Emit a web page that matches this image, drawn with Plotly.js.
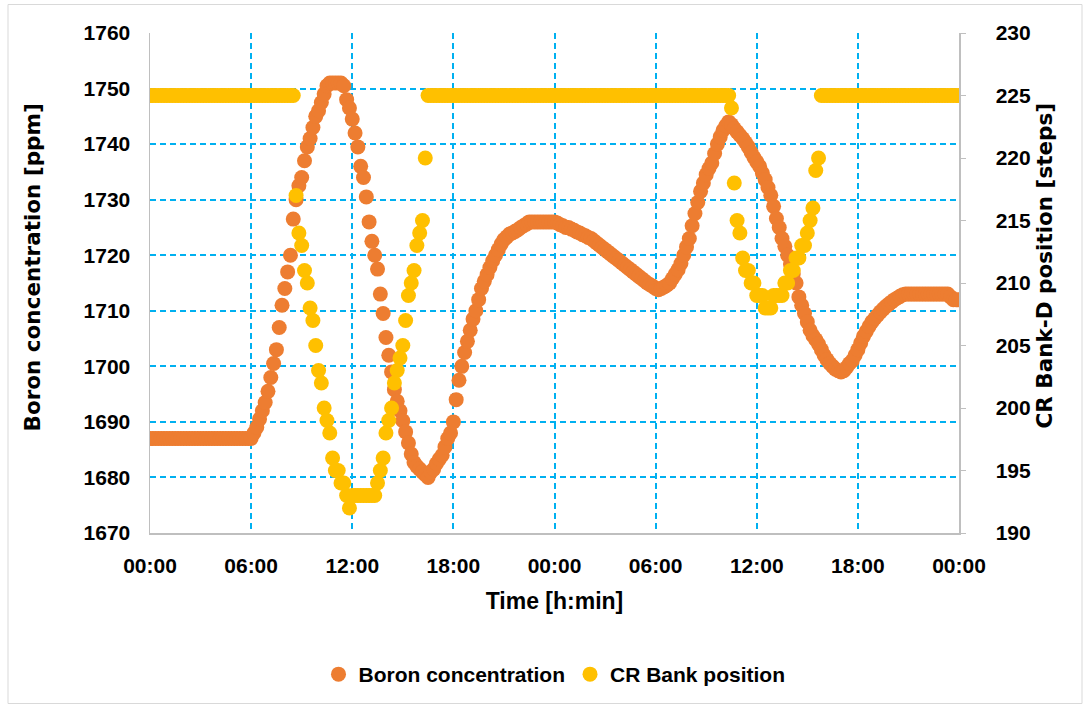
<!DOCTYPE html>
<html>
<head>
<meta charset="utf-8">
<script src="https://cdn.plot.ly/plotly-3.0.1.min.js"></script>
<style>
  html, body { margin: 0; padding: 0; background: #ffffff; }
  #chart { width: 1087px; height: 709px; }
</style>
</head>
<body>
<div id="chart"></div>
<script>
// Sampling interval of the logged plant data (minutes)
const sampleMinutes = 10;

// Boron concentration [ppm], one value every 10 minutes over 48 h
const boronPpm = [
  1687,1687,1687,1687,1687,1687, 1687,1687,1687,1687,1687,1687,
  1687,1687,1687,1687,1687,1687, 1687,1687,1687,1687,1687,1687,
  1687,1687,1687,1687,1687,1687, 1687,1687,1687,1687,1687,1687,
  1687,1688,1689,1690.5,1692,1693.5, 1695.5,1698,1700.5,1703,1707,1711,
  1714,1717,1720,1726.5,1730,1732.5, 1734,1737,1739.5,1741,1743,1745,
  1746,1747.5,1749,1750.5,1751,1751, 1751,1751,1751,1750.5,1748,1746.5,
  1744.5,1742,1739.5,1736,1734,1730.5, 1726,1722.5,1720,1717.5,1713,1709.5,
  1705.2,1702,1699,1695.8,1693.7,1692, 1690.2,1688.2,1686.2,1684.2,1682.7,1682,
  1681.5,1681,1680.5,1680,1681,1681.5, 1682.5,1683.3,1684,1685.5,1687,1688,
  1690,1694,1697.5,1700,1702.5,1704.5, 1706.5,1708.5,1710,1712,1714,1715.3,
  1716.5,1717.8,1719,1720,1721,1722, 1722.8,1723.3,1723.8,1724,1724.3,1724.6,
  1725,1725.3,1725.6,1726,1726,1726, 1726,1726,1726,1726,1726,1726,
  1726,1725.8,1725.5,1725.3,1725,1725, 1724.7,1724.5,1724.2,1724,1723.7,1723.5,
  1723.2,1723,1722.6,1722.2,1721.8,1721.4, 1721,1720.6,1720.2,1719.8,1719.4,1719,
  1718.6,1718.2,1717.8,1717.4,1717,1716.6, 1716.2,1715.8,1715.4,1715,1714.7,1714.4,
  1714,1713.8,1714,1714.3,1714.6,1715, 1715.8,1716.6,1717.4,1718.5,1720,1721.5,
  1723,1725.3,1727.5,1729.5,1731.5,1733, 1734.5,1735.6,1736.6,1738.3,1740,1741.3,
  1742.5,1743.3,1744,1743.5,1742.8,1742.2, 1741.6,1741,1740.3,1739.5,1738.5,1737.6,
  1736.8,1736,1734.8,1733.6,1732.2,1730.8, 1728.8,1726.6,1725,1723,1721.6,1720,
  1718.4,1716.6,1715,1712.5,1711,1709.5, 1708,1706.5,1705.5,1704.8,1704,1703,
  1702,1701.2,1700.5,1700,1699.5,1699.2, 1699,1699.2,1699.8,1700.5,1701,1702,
  1703,1704.2,1705.4,1706.3,1707.2,1708, 1708.6,1709.2,1709.8,1710.3,1710.8,1711.2,
  1711.6,1712,1712.3,1712.6,1712.9,1713, 1713,1713,1713,1713,1713,1713,
  1713,1713,1713,1713,1713,1713, 1713,1713,1713,1712.5,1712,1712,
  1712
];

// Control rod bank D position [steps], same time stamps
const bankSteps = [
  225,225,225,225,225,225, 225,225,225,225,225,225,
  225,225,225,225,225,225, 225,225,225,225,225,225,
  225,225,225,225,225,225, 225,225,225,225,225,225,
  225,225,225,225,225,225, 225,225,225,225,225,225,
  225,225,225,225,217,214, 213,211,210,208,207,205,
  203,202,200,199,198,196, 195,195,194,194,193,192,
  193,193,193,193,193,193, 193,193,193,194,195,196,
  198,199,200,202,203,204, 205,207,209,210,211,213,
  214,215,220,225,225,225, 225,225,225,225,225,225,
  225,225,225,225,225,225, 225,225,225,225,225,225,
  225,225,225,225,225,225, 225,225,225,225,225,225,
  225,225,225,225,225,225, 225,225,225,225,225,225,
  225,225,225,225,225,225, 225,225,225,225,225,225,
  225,225,225,225,225,225, 225,225,225,225,225,225,
  225,225,225,225,225,225, 225,225,225,225,225,225,
  225,225,225,225,225,225, 225,225,225,225,225,225,
  225,225,225,225,225,225, 225,225,225,225,225,225,
  225,225,225,224,218,215, 214,212,211,211,210,210,
  209,209,209,208,208,208, 209,209,209,209,210,210,
  211,211,212,212,213,213, 214,215,216,219,220,225,
  225,225,225,225,225,225, 225,225,225,225,225,225,
  225,225,225,225,225,225, 225,225,225,225,225,225,
  225,225,225,225,225,225, 225,225,225,225,225,225,
  225,225,225,225,225,225, 225,225,225,225,225,225,
  225
];

// Time axis ticks (hours from start) and their clock labels
const tickHours = [0, 6, 12, 18, 24, 30, 36, 42, 48];
const tickLabels = ["00:00", "06:00", "12:00", "18:00", "00:00", "06:00", "12:00", "18:00", "00:00"];

// Axis titles
const leftTitle = "Boron concentration [ppm]";
const rightTitle = "CR Bank-D position [steps]";
const bottomTitle = "Time [h:min]";

const hours = boronPpm.map((_, i) => i * sampleMinutes / 60);

const NARROW = "'Liberation Sans', Arial, sans-serif";
const WIDE = "'DejaVu Sans', Verdana, sans-serif";
const gridBlue = "#00b0f0";
const axisGrey = "#bfbfbf";

const traces = [
  {
    x: hours, y: boronPpm,
    type: "scatter", mode: "markers",
    name: "Boron concentration",
    marker: { color: "#ed7d31", size: 15, line: { width: 0 } },
    yaxis: "y"
  },
  {
    x: hours, y: bankSteps,
    type: "scatter", mode: "markers",
    name: "CR Bank position",
    marker: { color: "#ffc000", size: 15, line: { width: 0 } },
    yaxis: "y2"
  }
];

const tickFont = { family: NARROW, size: 21, color: "#000000", weight: 700 };
const yTitleFont = { family: WIDE, size: 21.5, color: "#000000", weight: 700 };

// plot area in page pixels: x 150..959, y 33.5..533.5
const px = v => (v - 150) / 809;
const py = v => (533.5 - v) / 500;

const layout = {
  width: 1087, height: 709,
  margin: { l: 150, r: 128, t: 33, b: 176 },
  paper_bgcolor: "#ffffff", plot_bgcolor: "#ffffff",
  font: { family: NARROW, color: "#000000" },
  showlegend: true,
  legend: {
    orientation: "h", x: 0.5, xanchor: "center", y: -0.283, yanchor: "middle",
    font: { family: NARROW, size: 21, color: "#000000", weight: 700 },
    itemwidth: 30, tracegroupgap: 0
  },
  xaxis: {
    range: [0, 48], tickmode: "array", tickvals: tickHours, ticktext: tickLabels,
    showgrid: true, gridcolor: gridBlue, gridwidth: 2, griddash: "6px,4px",
    showline: true, linecolor: axisGrey, linewidth: 1.5, mirror: false,
    zeroline: false, ticks: "", tickfont: tickFont, ticklabelstandoff: 13,
    title: { text: bottomTitle, font: { family: NARROW, size: 23, color: "#000000", weight: 700 }, standoff: 17 }
  },
  yaxis: {
    range: [1670, 1760], dtick: 10, tick0: 1670,
    showgrid: true, gridcolor: gridBlue, gridwidth: 2, griddash: "6px,4px",
    showline: true, linecolor: axisGrey, linewidth: 1.5,
    zeroline: false, ticks: "", tickfont: tickFont, ticklabelstandoff: 14
  },
  yaxis2: {
    range: [190, 230], dtick: 5, tick0: 190,
    overlaying: "y", side: "right",
    showgrid: false, showline: true, linecolor: axisGrey, linewidth: 1.5,
    zeroline: false, ticks: "outside", ticklen: 5, tickcolor: axisGrey, tickwidth: 1,
    tickfont: tickFont, ticklabelstandoff: 26
  },
  annotations: [
    {
      text: leftTitle, xref: "paper", yref: "paper", x: px(32), y: py(268),
      xanchor: "center", yanchor: "middle", textangle: -90, showarrow: false, font: yTitleFont
    },
    {
      text: rightTitle, xref: "paper", yref: "paper", x: px(1044), y: py(266),
      xanchor: "center", yanchor: "middle", textangle: -90, showarrow: false, font: yTitleFont
    }
  ],
  shapes: [
    {
      type: "rect", xref: "paper", yref: "paper",
      x0: px(8), x1: px(1082), y0: py(704), y1: py(5),
      line: { color: "#d9d9d9", width: 1 }, fillcolor: "rgba(0,0,0,0)", layer: "below"
    }
  ]
};

Plotly.newPlot("chart", traces, layout, { displayModeBar: false, staticPlot: true });
</script>
</body>
</html>
